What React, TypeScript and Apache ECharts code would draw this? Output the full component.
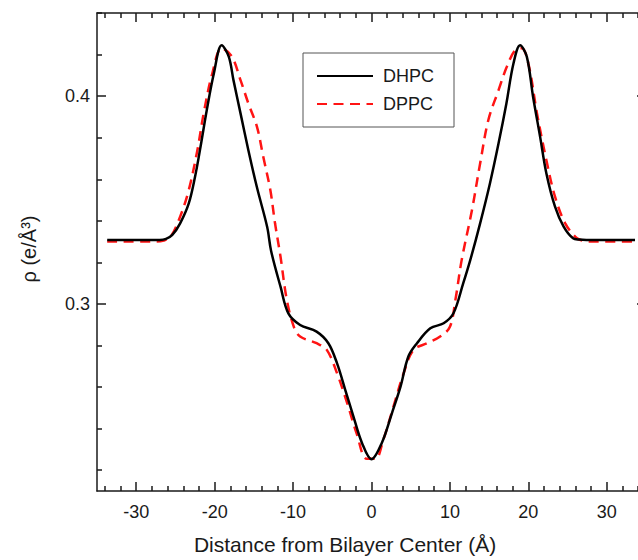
import React, { useEffect, useRef } from 'react';
import * as echarts from 'echarts';

// Distance from bilayer center (Å) and electron density (e/Å³)
const xDHPC = [-33.7, -27.0, -26.2, -25.4, -24.4, -23.3, -22.5, -21.8, -21.0, -20.1, -19.1, -18.2, -17.6, -16.7, -15.7, -14.6, -13.3, -12.8, -11.6, -10.6, -9.1, -7.0, -5.5, -4.4, -3.35, -2.3, -1.2, 0.0, 1.3, 2.6, 3.7, 4.7, 5.8, 7.5, 9.2, 10.45, 11.7, 12.6, 13.85, 15.1, 16.2, 17.2, 18.1, 18.95, 19.8, 20.6, 21.5, 22.3, 23.4, 24.5, 25.7, 26.5, 27.4, 33.6];
const yDHPC = [0.3308, 0.3308, 0.3313, 0.3332, 0.3388, 0.3484, 0.3612, 0.3756, 0.3933, 0.4109, 0.4245, 0.4190, 0.4077, 0.3917, 0.3740, 0.3560, 0.3370, 0.3255, 0.3083, 0.2955, 0.2899, 0.2867, 0.2811, 0.2715, 0.2587, 0.2458, 0.2330, 0.2253, 0.2330, 0.2474, 0.2602, 0.2747, 0.2811, 0.2883, 0.2907, 0.2955, 0.3100, 0.3212, 0.3388, 0.3580, 0.3773, 0.3965, 0.4157, 0.4245, 0.4190, 0.3997, 0.3804, 0.3628, 0.3468, 0.3372, 0.3316, 0.3310, 0.3308, 0.3308];

const xDPPC = [-33.7, -27.4, -26.5, -25.6, -24.4, -23.3, -22.2, -21.4, -20.3, -19.1, -17.8, -16.7, -15.7, -14.6, -13.8, -12.9, -12.3, -11.6, -10.8, -9.9, -9.1, -7.0, -5.7, -4.4, -3.1, -1.9, -0.6, 0.5, 1.5, 2.8, 4.1, 5.35, 7.1, 8.75, 10.0, 10.7, 11.5, 12.8, 13.85, 14.9, 16.2, 17.25, 18.3, 19.15, 20.0, 21.1, 22.3, 23.4, 24.7, 26.2, 27.1, 27.9, 33.6];
const yDPPC = [0.3300, 0.3300, 0.3305, 0.3324, 0.3420, 0.3548, 0.3740, 0.3917, 0.4109, 0.4230, 0.4190, 0.4077, 0.3965, 0.3852, 0.3708, 0.3548, 0.3388, 0.3227, 0.3020, 0.2890, 0.2843, 0.2811, 0.2779, 0.2667, 0.2523, 0.2378, 0.2255, 0.2255, 0.2346, 0.2506, 0.2667, 0.2779, 0.2811, 0.2843, 0.2890, 0.3020, 0.3212, 0.3450, 0.3676, 0.3885, 0.4029, 0.4141, 0.4221, 0.4230, 0.4157, 0.3917, 0.3692, 0.3516, 0.3388, 0.3316, 0.3303, 0.3300, 0.3300];

const seriesNames = ['DHPC', 'DPPC'];
const xTickLabels = ['-30', '-20', '-10', '0', '10', '20', '30'];
const yTickLabels = ['0.3', '0.4'];
const xRange = [-35, 35];
const yRange = [0.21, 0.44];
const xTitle = 'Distance from Bilayer Center (Å)';
const yTitle = 'ρ (e/Å³)';

const FONT = '"Liberation Sans", Arial, Helvetica, sans-serif';
const AXIS_COLOR = '#1a1a1a';

export default function App() {
  const ref = useRef<HTMLDivElement>(null);

  useEffect(() => {
    if (!ref.current) return;
    const chart = echarts.init(ref.current, undefined, { renderer: 'svg' });

    const xCats: string[] = [];
    for (let v = xRange[0]; v <= xRange[1]; v++) xCats.push(String(v));
    const yCats: string[] = [];
    const ySteps = Math.round((yRange[1] - yRange[0]) * 100);
    for (let i = 0; i <= ySteps; i++) yCats.push((yRange[0] + i * 0.01).toFixed(2));

    const xMajor = (_i: number, v: string) => xTickLabels.includes(String(Number(v)));
    const xMinor = (_i: number, v: string) => Number(v) % 2 === 0 && !xMajor(_i, v);
    const yMajor = (_i: number, v: string) => yTickLabels.includes(String(Number(v)));
    const yMinor = (_i: number, v: string) =>
      Math.round(Number(v) * 100) % 2 === 0 && !yMajor(_i, v);

    const lineStyle = { color: AXIS_COLOR, width: 1.5 };

    const catX = (position: string, major: boolean, labels: boolean, line: boolean) => ({
      type: 'category',
      data: xCats,
      position,
      boundaryGap: false,
      axisLine: { show: line, lineStyle },
      axisTick: {
        show: true,
        inside: true,
        length: major ? 9 : 5,
        interval: major ? xMajor : xMinor,
        lineStyle,
      },
      axisLabel: {
        show: labels,
        interval: xMajor,
        margin: 12,
        fontSize: 18,
        fontFamily: FONT,
        color: AXIS_COLOR,
      },
      splitLine: { show: false },
    });

    const catY = (position: string, major: boolean, labels: boolean, line: boolean) => ({
      type: 'category',
      data: yCats,
      position,
      boundaryGap: false,
      axisLine: { show: line, lineStyle },
      axisTick: {
        show: true,
        inside: true,
        length: major ? 9 : 5,
        interval: major ? yMajor : yMinor,
        lineStyle,
      },
      axisLabel: {
        show: labels,
        interval: yMajor,
        margin: 7,
        fontSize: 18,
        fontFamily: FONT,
        color: AXIS_COLOR,
        formatter: (v: string) => String(Number(v)),
      },
      splitLine: { show: false },
    });

    const toPairs = (xs: number[], ys: number[]) => xs.map((x, i) => [x, ys[i]]);

    chart.setOption({
      animation: false,
      backgroundColor: '#ffffff',
      grid: { left: 97, right: 14, top: 13, bottom: 69, containLabel: false, outerBoundsMode: 'none' },
      xAxis: [
        { type: 'value', min: xRange[0], max: xRange[1], show: false, position: 'bottom' },
        catX('bottom', true, true, true),
        catX('bottom', false, false, false),
        catX('top', true, false, true),
        catX('top', false, false, false),
      ],
      yAxis: [
        { type: 'value', min: yRange[0], max: yRange[1], show: false, position: 'left' },
        catY('left', true, true, true),
        catY('left', false, false, false),
        catY('right', true, false, true),
        catY('right', false, false, false),
      ],
      legend: {
        data: seriesNames,
        orient: 'vertical',
        left: 303,
        top: 53,
        padding: [14, 20, 14, 13],
        itemWidth: 56,
        itemHeight: 14,
        itemGap: 10,
        borderColor: '#555555',
        borderWidth: 1,
        itemStyle: { opacity: 0 },
        textStyle: { fontSize: 18, fontFamily: FONT, color: AXIS_COLOR, padding: [0, 0, 0, 5] },
      },
      graphic: [
        {
          type: 'text',
          x: 345,
          y: 544,
          style: {
            text: xTitle,
            font: `21px ${FONT}`,
            fill: AXIS_COLOR,
            align: 'center',
            verticalAlign: 'middle',
          },
        },
        {
          type: 'text',
          x: 29,
          y: 249,
          rotation: Math.PI / 2,
          style: {
            text: yTitle,
            font: `20px ${FONT}`,
            fill: AXIS_COLOR,
            align: 'center',
            verticalAlign: 'middle',
          },
        },
      ],
      series: [
        {
          name: seriesNames[1],
          type: 'line',
          xAxisIndex: 0,
          yAxisIndex: 0,
          data: toPairs(xDPPC, yDPPC),
          smooth: 0.35,
          symbol: 'none',
          lineStyle: { color: '#ff1414', width: 2.5, type: [10, 6.5] },
          itemStyle: { color: '#ff1414' },
        },
        {
          name: seriesNames[0],
          type: 'line',
          xAxisIndex: 0,
          yAxisIndex: 0,
          data: toPairs(xDHPC, yDHPC),
          smooth: 0.35,
          symbol: 'none',
          lineStyle: { color: '#000000', width: 2.5, type: 'solid' },
          itemStyle: { color: '#000000' },
        },
      ],
    });

    return () => chart.dispose();
  }, []);

  return (
    <div
      style={{
        position: 'fixed',
        left: 0,
        top: 0,
        width: 638,
        height: 560,
        overflow: 'hidden',
        background: '#ffffff',
      }}
    >
      <div ref={ref} style={{ width: 660, height: 560 }} />
    </div>
  );
}
